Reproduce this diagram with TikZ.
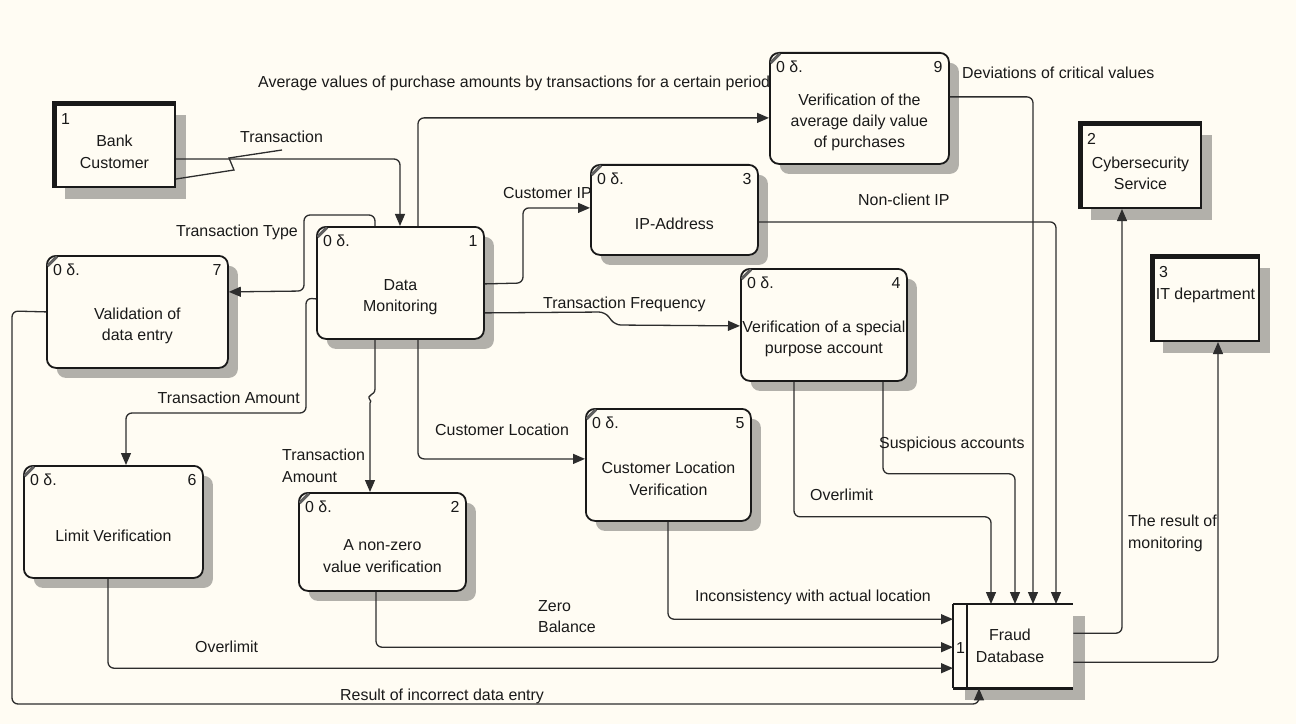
\documentclass[tikz,border=0pt]{standalone}
\usepackage{fontspec}
\setmainfont{Liberation Sans}
\usetikzlibrary{arrows.meta,calc,shadows}
\definecolor{bg}{RGB}{255,252,243}
\definecolor{shd}{RGB}{178,176,170}
\definecolor{ink}{RGB}{25,25,25}
\definecolor{lineclr}{RGB}{45,45,45}
\definecolor{markclr}{RGB}{95,95,95}

\tikzset{
  procbox/.style={draw=ink, line width=1.8bp, rounded corners=9bp, fill=bg, anchor=north west, inner sep=0pt,
    drop shadow={shadow xshift=10bp, shadow yshift=-10bp, fill=shd, opacity=1}},
  entbox/.style={draw=ink, line width=2bp, fill=bg, anchor=north west, inner sep=0pt,
    drop shadow={shadow xshift=11bp, shadow yshift=-12bp, fill=shd, opacity=1}},
  dbbox/.style={fill=bg, anchor=north west, inner sep=0pt, minimum width=120bp, minimum height=84bp,
    drop shadow={shadow xshift=12bp, shadow yshift=-12bp, fill=shd, opacity=1}},
  cornermark/.style={draw=markclr, line width=3bp},
  idtxt/.style={inner sep=0pt},
  ptext/.style={align=center, inner sep=0pt},
  lbl/.style={inner sep=0pt, anchor=base west},
  lblr/.style={inner sep=0pt, anchor=base east},
  lblm/.style={inner sep=0pt, anchor=north west, align=left},
  flow/.style={draw=lineclr, line width=1.3bp, rounded corners=6bp, -{Triangle[length=12bp,width=10bp]}},
  leader/.style={draw=lineclr, line width=1.3bp},
  thickedge/.style={draw=ink, line width=5bp},
}

\newcommand\mkproc[7]{%
  \node[procbox, minimum width=#4bp, minimum height=#5bp] (#1) at (#2,#3) {};
  \draw[cornermark] ($(#1.north west)+(1.5,11)$) -- ($(#1.north west)+(11,1.5)$);
  \node[idtxt, anchor=north west] (#1id) at ($(#1.north west)+(7,9)$) {0 δ.};
  \node[idtxt, anchor=north east] (#1n) at ($(#1.north east)+(-7,9)$) {#6};
  \node[ptext] (#1t) at ($(#1.center)+(0,14)$) {#7};
}
\newcommand\mkent[8]{%
  \node[entbox, minimum width=#4bp, minimum height=#5bp] (#1) at (#2,#3) {};
  \draw[thickedge] ($(#1.south west)+(1.5,0)$) -- ($(#1.north west)+(1.5,1.5)$) -- ($(#1.north east)+(0,1.5)$);
  \node[idtxt, anchor=north west] (#1n) at ($(#1.north west)+(8,11)$) {#6};
  \node[ptext] (#1t) at ($(#1.center)+(0,#7)$) {#8};
}

\begin{document}
\begin{tikzpicture}[x=1bp,y=-1bp, font=\fontsize{16}{21.5}\selectfont, text=ink]
\fill[bg] (0,0) rectangle (1296,724);
\useasboundingbox (0,0) rectangle (1296,724);

% external entities
\mkent{bc}{53}{102}{121}{84}{1}{7}{Bank\\Customer}
\mkent{cs}{1079}{122}{121}{85}{2}{8}{Cybersecurity\\Service}
\mkent{it}{1151}{255}{107}{85}{3}{-3.5}{IT department}

% processes
\mkproc{p1}{316}{226}{167}{112}{1}{Data\\Monitoring}
\mkproc{p7}{46}{255}{181}{112}{7}{Validation of\\data entry}
\mkproc{p9}{769}{52}{179}{111}{9}{Verification of the\\average daily value\\of purchases}
\mkproc{p3}{590}{164}{167}{90}{3}{IP-Address}
\mkproc{p4}{740}{268}{166}{112}{4}{Verification of a special\\purpose account}
\mkproc{p5}{585}{408}{165}{112}{5}{Customer Location\\Verification}
\mkproc{p6}{23}{465}{179}{112}{6}{Limit Verification}
\mkproc{p2}{298}{492}{167}{98}{2}{A non-zero\\value verification}

% data store
\node[dbbox] (db) at (953,604) {};
\draw[draw=ink, line width=2.5bp] (db.north west) -- (db.north east);
\draw[draw=ink, line width=2.5bp] (db.south west) -- (db.south east);
\draw[draw=ink, line width=2bp] (db.north west) -- (db.south west);
\draw[draw=ink, line width=2bp] ($(db.north west)+(14,0)$) -- ($(db.south west)+(14,0)$);
\node[idtxt] (dbn) at ($(db.west)+(7.5,2)$) {1};
\node[ptext] (dbt) at (1010,646) {Fraud\\Database};

% connectors
\coordinate (tq1) at (234,170);
\coordinate (tq2) at (229,158);
\coordinate (tq3) at (282,150);
\draw[flow] ($(bc.east)+(0,14)$) -| ($(p1.north west)+(84,0)$);
\draw[leader] ($(bc.east)+(0,34)$) -- (tq1) -- (tq2) -- (tq3);

\draw[flow] ($(p1.north west)+(59,0)$) -- ++(0,-11) -| (304,291) -- ($(p7.east)+(0,-20)$);
\draw[flow] ($(p1.west)+(0,16)$) -- (306,298) -- (306,413) -| ($(p6.north west)+(103,0)$);
\draw[flow, sharp corners] ($(p1.south west)+(59,0)$) -- (375,389) .. controls (375,396) and (366,394) .. (370,400)
  .. controls (371,401) .. (370,403) -- ($(p2.north west)+(72,0)$);
\draw[flow] ($(p1.south west)+(102,0)$) |- ($(p5.west)+(0,-6)$);
\draw[flow] ($(p1.east)+(0,1)$) -- (523,283) |- ($(p3.west)+(0,-2)$);
\draw[flow] ($(p1.east)+(0,30)$) -- (605,312) -- (615,325) -- ($(p4.west)+(0,1)$);
\draw[flow] ($(p1.north west)+(102,0)$) |- ($(p9.west)+(0,9.5)$);

\draw[flow] ($(p9.east)+(0,-11.5)$) -| ($(db.north west)+(80,0)$);
\draw[flow] ($(p3.east)+(0,12)$) -| ($(db.north west)+(103,0)$);
\draw[flow] ($(p4.south west)+(143,0)$) -- ++(0,92) -| ($(db.north west)+(62,0)$);
\draw[flow] ($(p4.south west)+(54,0)$) -- ++(0,135) -| ($(db.north west)+(38,0)$);
\draw[flow] ($(p5.south west)+(83,0)$) |- ($(db.west)+(0,-27)$);
\draw[flow] ($(p2.south west)+(78,0)$) |- ($(db.west)+(0,1)$);
\draw[flow] ($(p6.south west)+(85,0)$) |- ($(db.west)+(0,22)$);
\draw[flow] (p7.west) -- (12,311) -- (12,704) -| ($(db.south west)+(26,0)$);
\draw[flow] ($(db.east)+(0,-13)$) -| ($(cs.south west)+(43,0)$);
\draw[flow] ($(db.east)+(0,16)$) -| ($(it.south west)+(67,0)$);

% labels
\node[lbl] (l1) at (240,143) {Transaction};
\node[lblr] (l2) at (298,237) {Transaction Type};
\node[lbl] (l3) at (258,88) {Average values of purchase amounts by transactions for a certain period};
\node[lbl] (l4) at (503,199) {Customer IP};
\node[lbl] (l5) at (543,308) {Transaction Frequency};
\node[lbl] (l6) at (858,206) {Non-client IP};
\node[lbl] (l7) at (962,79) {Deviations of critical values};
\node[lblr] (l8) at (300,403) {Transaction Amount};
\node[lblm] (l9) at (282,449) {Transaction\\Amount};
\node[lbl] (l10) at (435,435) {Customer Location};
\node[lbl] (l11) at (879,448) {Suspicious accounts};
\node[lbl] (l12) at (810,500) {Overlimit};
\node[lbl] (l13) at (695,601) {Inconsistency with actual location};
\node[lblm] (l14) at (538,600) {Zero\\Balance};
\node[lbl] (l15) at (195,652) {Overlimit};
\node[lbl] (l16) at (340,700) {Result of incorrect data entry};
\node[lblm] (l17) at (1128,515) {The result of\\monitoring};
\end{tikzpicture}
\end{document}
